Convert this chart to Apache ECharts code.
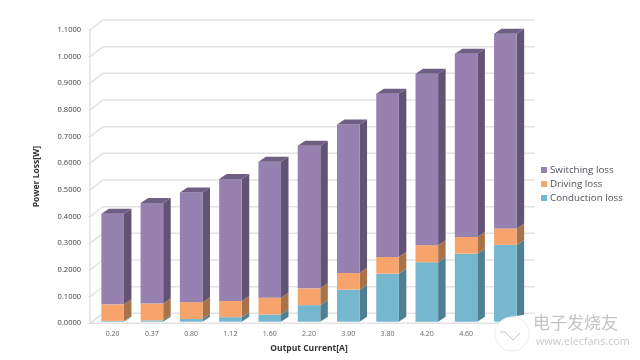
<!DOCTYPE html>
<html>
<head>
<meta charset="utf-8">
<style>html,body{margin:0;padding:0;background:#fff}#c{width:640px;height:360px}</style>
<script src="https://cdn.jsdelivr.net/npm/echarts@6/dist/echarts.min.js"></script>
</head>
<body>
<div id="c"></div>
<script>
const categories = ['0.20','0.37','0.80','1.12','1.60','2.20','3.00','3.80','4.20','4.60','5.00'];
const conductionLoss = [0.003,0.005,0.010,0.017,0.027,0.062,0.120,0.180,0.223,0.255,0.288];
const drivingLoss    = [0.062,0.063,0.063,0.061,0.063,0.063,0.063,0.063,0.064,0.063,0.062];
const switchingLoss  = [0.340,0.377,0.412,0.457,0.510,0.535,0.557,0.612,0.643,0.687,0.730];
const yTicks = [0,0.1,0.2,0.3,0.4,0.5,0.6,0.7,0.8,0.9,1.0,1.1];

const DX = 7.5, DY = 5, LIFT = 1.6, WX = 13, WY = 10, AX = 3;
const GRID = '#e2e2e2';
const FONT = '"Open Sans","Noto Sans",sans-serif';

function poly(points, fill) {
  return { type: 'polygon', shape: { points }, style: { fill, stroke: null } };
}
function barRender(front, top, side, hasTop) {
  return function (params, api) {
    const i = api.value(0);
    const w = api.size([1, 0])[0] * 0.575;
    const a = api.coord([i, api.value(1)]);
    const b = api.coord([i, api.value(2)]);
    const x0 = a[0] - w / 2, x1 = a[0] + w / 2;
    const y0 = a[1] - LIFT, y1 = b[1] - LIFT;
    const children = [
      poly([[x1, y0], [x1 + DX, y0 - DY], [x1 + DX, y1 - DY], [x1, y1]], side),
      poly([[x0, y0], [x1, y0], [x1, y1], [x0, y1]], front)
    ];
    if (hasTop) children.push(poly([[x0, y1], [x1, y1], [x1 + DX, y1 - DY], [x0 + DX, y1 - DY]], top));
    return { type: 'group', children };
  };
}
function wallRender(params, api) {
  const v = api.value(0);
  const cs = params.coordSys;
  const y = api.coord([0, v])[1];
  const xl = cs.x - AX, xr = cs.x + cs.width - AX;
  const ls = { stroke: GRID, lineWidth: 1.5, fill: null };
  const children = [
    { type: 'polyline', shape: { points: [[xl, y], [xl + WX, y - WY], [xr + WX, y - WY]] }, style: ls }
  ];
  if (v === 0) children.push({ type: 'polyline', shape: { points: [[xl, y], [xr, y], [xr + WX, y - WY]] }, style: ls });
  return { type: 'group', children };
}
let b1 = conductionLoss, b2 = conductionLoss.map((v, i) => v + drivingLoss[i]);
const segs = (base, vals) => vals.map((v, i) => [i, base ? base[i] : 0, (base ? base[i] : 0) + v]);

const chart = echarts.init(document.getElementById('c'), null, { renderer: 'canvas' });
chart.setOption({
  animation: false,
  backgroundColor: '#fff',
  grid: { left: 93, top: 30, width: 432, height: 293.3 },
  legend: {
    orient: 'vertical', left: 536, top: 160, itemWidth: 6, itemHeight: 6, itemGap: 4,
    icon: 'rect',
    data: ['Switching loss', 'Driving loss', 'Conduction loss'],
    textStyle: { fontFamily: FONT, fontSize: 9.8, color: '#50505a', padding: [0, 0, 0, -2] }
  },
  xAxis: {
    type: 'category', data: categories,
    axisLine: { show: false }, axisTick: { show: false },
    axisLabel: { fontFamily: FONT, fontSize: 7, color: '#666', margin: 7 },
    name: 'Output Current[A]', nameLocation: 'middle', nameGap: 21,
    nameTextStyle: { fontFamily: FONT, fontSize: 8.5, fontWeight: 'bold', color: '#333' }
  },
  yAxis: {
    type: 'value', min: 0, max: 1.1, interval: 0.1, offset: AX,
    axisLine: { show: true, lineStyle: { color: GRID, width: 1.5 } },
    axisTick: { show: true, length: 2, lineStyle: { color: GRID } },
    splitLine: { show: false },
    axisLabel: { fontFamily: FONT, fontSize: 7.5, color: '#3c3c3c', margin: 9, formatter: v => v.toFixed(4) },
    name: 'Power Loss[W]', nameLocation: 'middle', nameGap: 49,
    nameTextStyle: { fontFamily: FONT, fontSize: 8.5, fontWeight: 'bold', color: '#333' }
  },
  series: [
    { type: 'custom', name: 'wall', silent: true, z: 1, renderItem: wallRender,
      data: yTicks.map(v => [v]), encode: { y: 0 } },
    { type: 'custom', name: 'Conduction loss', z: 2, itemStyle: { color: '#74b7cf' },
      renderItem: barRender('#74b7cf', '#74b7cf', '#4f7f90', false),
      data: segs(null, conductionLoss), encode: { x: 0, y: [1, 2] } },
    { type: 'custom', name: 'Driving loss', z: 3, itemStyle: { color: '#f6a46b' },
      renderItem: barRender('#f6a46b', '#f6a46b', '#a9734a', false),
      data: segs(b1, drivingLoss), encode: { x: 0, y: [1, 2] } },
    { type: 'custom', name: 'Switching loss', z: 4, itemStyle: { color: '#9781b0' },
      renderItem: barRender('#9781b0', '#6f5f85', '#625374', true),
      data: segs(b2, switchingLoss), encode: { x: 0, y: [1, 2] } }
  ],
  graphic: [
    { type: 'polygon', z: 100, shape: { points: [[510, 317], [535, 313], [526, 330]] }, style: { fill: '#fff' } },
    { type: 'circle', z: 100, shape: { cx: 512, cy: 334, r: 17 }, style: { fill: '#fff', stroke: '#ececec', lineWidth: 1 } },
    { type: 'polyline', z: 101, shape: { points: [[500, 332], [505, 332], [513, 340], [520, 333]] }, style: { stroke: '#c8c8c8', lineWidth: 1, fill: null } },
    { type: 'text', z: 101, left: 533, top: 314, style: { text: '电子发烧友', fontFamily: '"Noto Sans CJK SC"', fontSize: 17, fill: '#c4c4c8' } },
    { type: 'text', z: 101, left: 536, top: 336, style: { text: 'www.elecfans.com', fontFamily: FONT, fontSize: 10.8, fill: '#c8c8cc' } }
  ]
});
</script>
</body>
</html>
